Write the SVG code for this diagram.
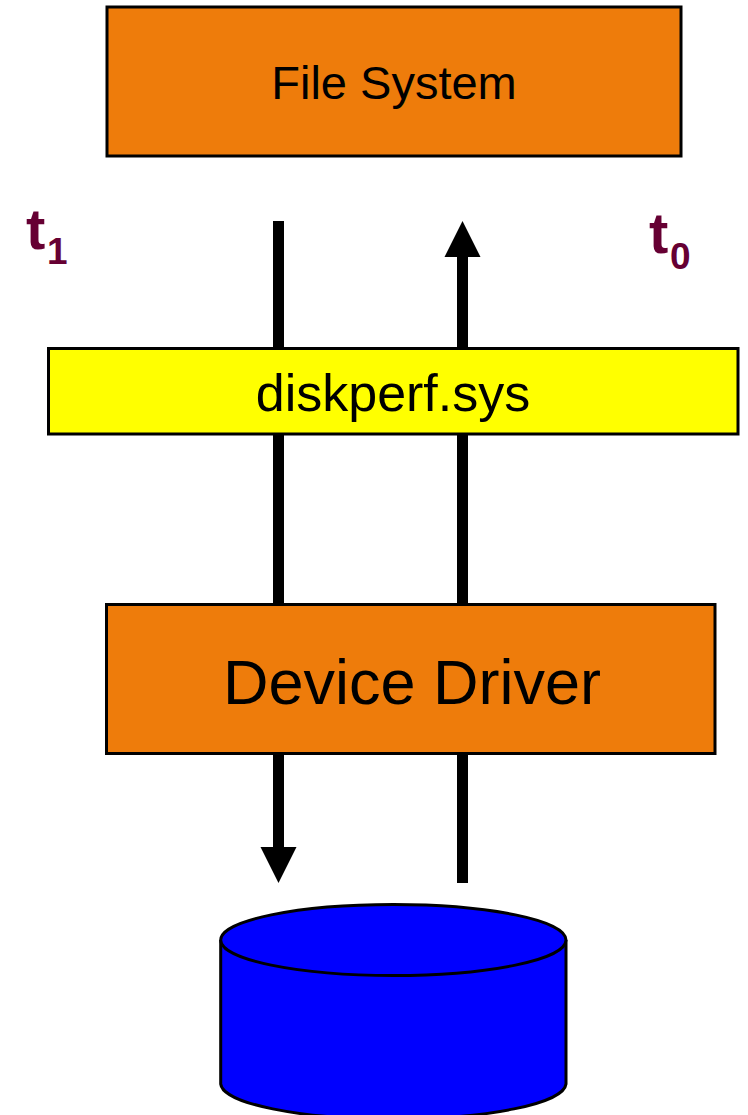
<svg xmlns="http://www.w3.org/2000/svg" width="748" height="1115" viewBox="0 0 748 1115">
<style>
.box{stroke:#000;stroke-width:3}
.orange{fill:#EE7C0B}
.lbl{font-family:"Liberation Sans",Arial,sans-serif;fill:#000;text-anchor:middle}
.t{font-family:"Liberation Sans",Arial,sans-serif;font-weight:bold;fill:#660033}
.wire{stroke:#000;stroke-width:11;fill:none}
.head{fill:#000}
</style>
<rect width="748" height="1115" fill="#fff"/>
<g id="connectors">
<line class="wire" x1="278.5" y1="221" x2="278.5" y2="604"/>
<line class="wire" x1="462.5" y1="255" x2="462.5" y2="604"/>
<polygon class="head" points="462.5,221 480.5,257 444.5,257"/>
<line class="wire" x1="278.5" y1="754" x2="278.5" y2="849"/>
<polygon class="head" points="278.5,883 296.5,847 260.5,847"/>
<line class="wire" x1="462.5" y1="754" x2="462.5" y2="883"/>
</g>
<g id="file-system">
<rect class="box orange" x="107" y="7" width="574" height="149"/>
<text class="lbl" x="394" y="99" font-size="47">File System</text>
</g>
<g id="diskperf">
<rect class="box" x="48.5" y="348.5" width="689.5" height="85.5" fill="#FFFF00"/>
<text class="lbl" x="393" y="411" font-size="52">diskperf.sys</text>
</g>
<g id="device-driver">
<rect class="box orange" x="106.5" y="604.5" width="608.5" height="149"/>
<text class="lbl" x="412" y="704" font-size="63">Device Driver</text>
</g>
<g id="t1">
<text class="t" x="26" y="249" font-size="58">t</text>
<text class="t" x="47" y="264" font-size="37">1</text>
</g>
<g id="t0">
<text class="t" x="649" y="253" font-size="58">t</text>
<text class="t" x="670" y="269" font-size="37">0</text>
</g>
<g id="disk">
<path d="M220.7,940 L220.7,1084 A172.7,36 0 0 0 566,1084 L566,940" fill="#0000FF" stroke="#000" stroke-width="3"/>
<ellipse cx="393.35" cy="940" rx="172.65" ry="35.5" fill="#0000FF" stroke="#000" stroke-width="3"/>
</g>
</svg>
